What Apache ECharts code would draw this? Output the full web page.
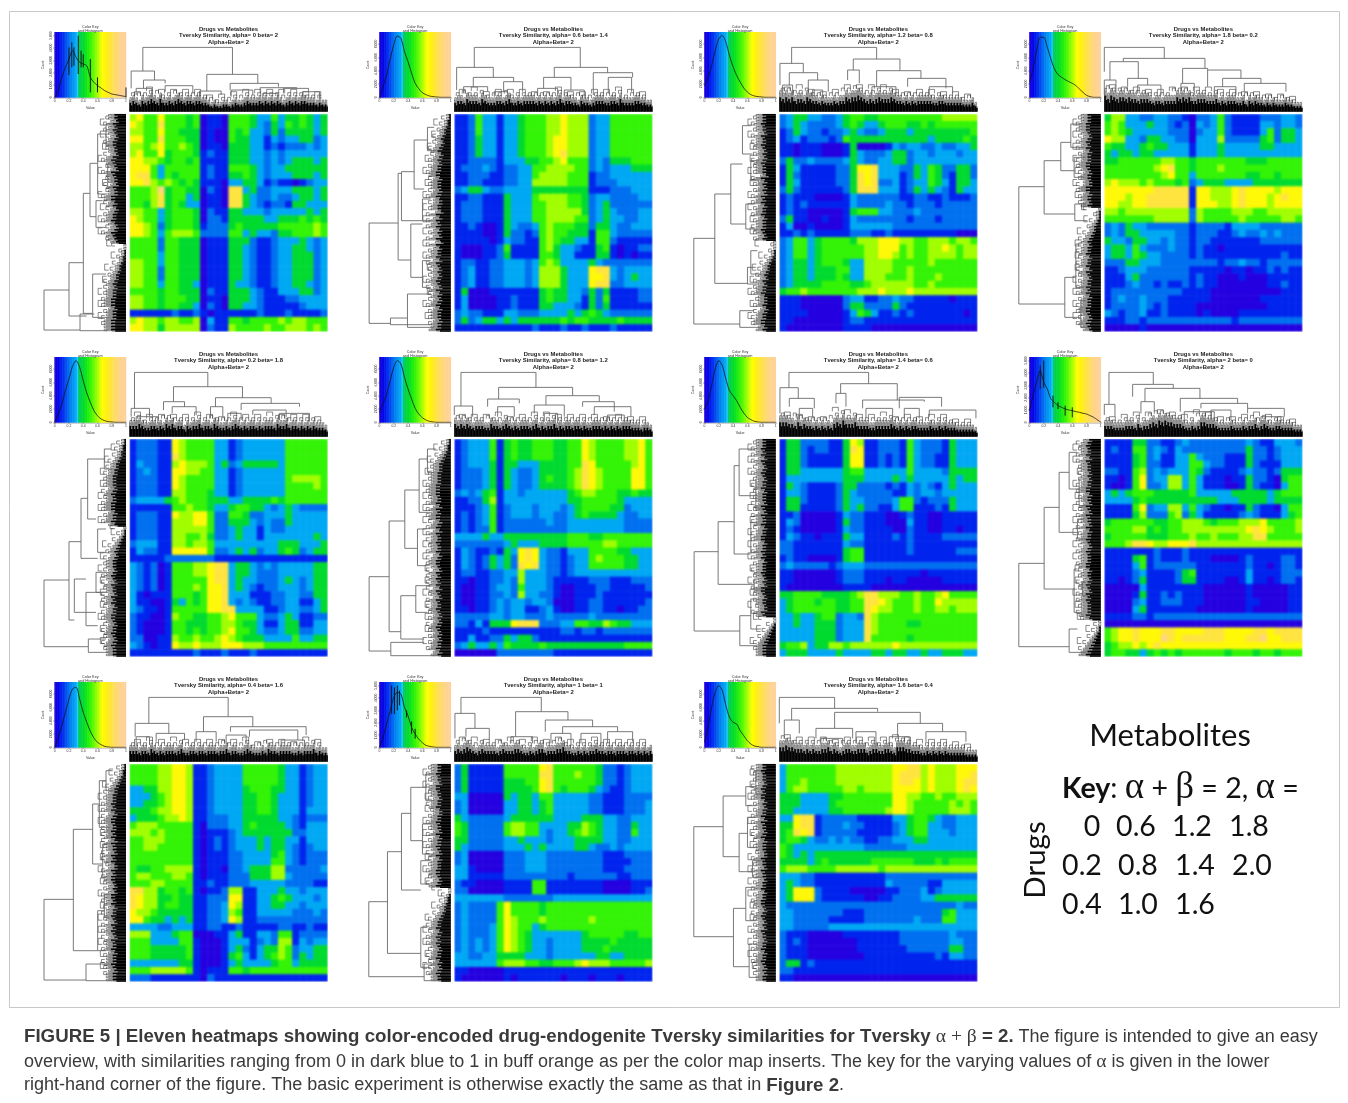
<!DOCTYPE html>
<html><head><meta charset="utf-8">
<script src="https://cdn.jsdelivr.net/npm/echarts@6/dist/echarts.min.js"></script>
<style>html,body{margin:0;padding:0;background:#fff}
#h,#a,#b{position:absolute;left:0;top:0;width:1348px;height:1103px}
#a{filter:blur(0.5px)}</style></head><body><div id="h"></div><div id="a"></div><div id="b"></div>
<script>
// ---- values ----
const alphaBetaLabels=["alpha= 0 beta= 2","alpha= 0.6 beta= 1.4","alpha= 1.2 beta= 0.8","alpha= 1.8 beta= 0.2","alpha= 0.2 beta= 1.8","alpha= 0.8 beta= 1.2","alpha= 1.4 beta= 0.6","alpha= 2 beta= 0","alpha= 0.4 beta= 1.6","alpha= 1 beta= 1","alpha= 1.6 beta= 0.4"];
const keyRows=[["0","0.6","1.2","1.8"],["0.2","0.8","1.4","2.0"],["0.4","1.0","1.6"]];
const histX=[0,.05,.1,.15,.2,.25,.3,.35,.4,.45,.5,.55,.6,.65,.7,.75,.8,.85,.9,1];
const countMax=[5270,9750,9750,9750,9750,9750,9750,5270,9750,5270,9750];
const countStep=[1000,2000,2000,2000,2000,2000,2000,1000,2000,1000,2000];
const hist1=[0,540,1620,2430,3100,3780,3240,2835,2700,2565,1620,1215,945,756,540,405,270,216,162,54];
const hist2=[0,1600,3350,5750,7850,9200,8850,6850,5350,3600,2100,1300,700,400,200,100,50,0,0,0];
const hist3=[1750,3000,4750,7000,8750,9250,8250,6250,4600,3300,2300,1400,800,400,200,100,50,0,0,0];
const hist4=[2250,4250,7000,9000,9000,7500,5750,4250,3400,3000,2650,2350,2100,1750,1250,750,300,100,0,0];
const hist5=[0,1250,2750,4750,6500,8400,9250,8250,6250,4400,3000,1750,1000,500,250,100,50,0,0,0];
const hist6=[1500,2750,4250,6250,8250,9250,8750,6750,5000,3500,2100,1250,700,350,150,50,0,0,0,0];
const hist7=[2000,3250,5500,8000,9250,8500,6500,4750,4000,3250,2250,1400,750,400,150,50,0,0,0,0];
const hist8=[945,2160,3240,4185,3240,2700,1890,1620,1350,1215,1080,1000,945,864,810,730,675,540,405,0];
const hist9=[0,1500,3250,5250,7250,8750,9000,7250,5250,3750,2400,1400,750,400,150,50,0,0,0,0];
const hist10=[0,810,1890,2970,4050,4455,4320,3240,2565,1620,1080,675,378,162,81,27,0,0,0,0];
const hist11=[750,3000,6000,8250,9250,8500,6250,4500,3750,3500,2500,1750,1000,500,200,100,0,0,0,0];
const spikes1=[[.2,1800,4050],[.24,2430,4450],[.27,2560,4050],[.33,1890,5000],[.37,2430,3780],[.4,2430,3500],[.5,400,3100],[.6,400,1620],[1,0,800]];
const spikes8=[[.15,2700,4600],[.2,2800,5000],[.33,1215,2160],[.4,1080,1620],[.5,540,1350],[.6,400,1215]];
const spikes10=[[.17,2700,5000],[.21,2700,4860],[.25,3000,5000],[.28,3400,4600],[.38,2430,3000],[.45,1100,2100],[.5,700,1500]];

// heat cells: one digit per cell, digit/10 is the similarity
const heat1=["6755755 5450110 5554335 3445434","7655855 5450110 5554324 3545434","6655755 4440100 5453324 2444434","7755855 5440100 5443313 2334423","6656755 6540110 4443312 1222323","6755745 5541211 4443323 2333333","7766545 5451111 4443323 2344434","7775355 5551211 5554323 3444444","7885354 5551211 4454323 3344434","7786565 4541110 3344312 1101233","5556945 5440210 8834223 3344434","5556845 5340110 8843223 2234434","5546845 4330110 8843212 2144333","6655345 5540211 4433323 3333434","7655345 5540221 4444433 4445454","7765245 5541222 4544444 5555565","7765356 6652222 5534332 4455565","5555255 4440111 4442112 3334323","5555255 4440111 4432112 3344323","5555355 4440111 4432112 3344423","6655355 4440111 4432112 3344423","6655255 4440111 4432112 3344423","6655255 4440111 4432112 3344423","6655355 4430111 4332112 3344323","5555455 4440211 4443211 3334423","6655455 5440110 4443211 1223333","6655455 4430210 4433211 1112333","1111112 1121011 1111211 1211112","6766566 5560311 5545555 6566555","7766466 6660211 6555565 5666565"];
const heat2=["1125331 3345556 6766623 3555555","1125331 3345556 6766623 3555555","1125331 3345556 6766623 3555555","1124331 3345556 7766623 3555555","1124331 3345556 7766623 3555555","1124331 3345556 7866623 3555555","1122221 3334455 6755523 2444555","1222321 2233556 6665523 2333444","1122211 2233566 6655512 2333333","1122111 2233666 6655512 2233333","2344322 3333444 4444411 1222333","1122111 4333566 6655423 3222233","1222111 4333556 6655423 4222222","1222111 4333556 6666423 4322233","1222111 4333556 6665523 4332233","1121001 4322356 5554424 4322333","1111001 4221256 5544415 5322222","1111101 3221156 5443315 5211111","1000112 5111156 4332114 5101122","1000112 4111155 4331114 4101011","1221122 3332356 5333343 2222222","1231122 3332366 6433378 8323333","1231122 3332366 6433377 8323433","1231122 3332366 6433378 8223333","1400011 1111145 4433242 4111122","1300001 1211145 4433142 5111122","1300001 1211144 3332142 4111111","2322111 3322233 3343454 3222222","2423443 4344444 4545544 4454444","1111111 1111211 1211211 1211111"];
const heat3=["2344332 2345544 5555555 5566666","2343222 2345433 4555445 4555555","1243221 2234322 3444344 4444445","1231222 1254444 4444444 3444454","1101110 0014000 0132332 2322334","1101110 0014322 2344233 2333233","2422322 2234322 3344233 3333333","1431111 1224778 3332243 5422442","1421111 1224878 3331243 5421442","1431111 1224878 2231233 5431443","2421111 1124888 3331243 4321433","1211100 0013222 2221122 1121112","1212111 1113222 2322122 2122222","1211000 0014555 3322232 2222222","2411001 0013222 2222122 2122222","1300100 0013333 3322222 2222222","1121211 1112221 1211111 1111000","2355345 5554666 7776655 6665665","2355345 5555566 7775655 6676566","2355345 5555566 7765655 6666566","2344345 5543366 6655555 6555555","2344344 4553366 6655655 5555555","2344344 4543366 6555655 5655555","2344445 5554456 6666655 6555555","4556555 5555666 7666766 6666666","1110000 0023311 2232211 1110111","1110000 0024422 2242111 1111111","1111000 0013543 1121211 1111101","1100000 0012211 1111111 1111111","1000000 0011110 0000000 0000000"];
const heat4=["4663322 3322102 2352111 1222332","5653334 3321203 2352111 1332332","5654333 3322202 3352111 1352443","7663324 4332203 3362222 2452443","5443345 4433313 3343333 3443333","4344344 3333313 3343333 3333333","4455555 5665545 5555554 4455555","5555555 6785545 5565555 5555555","5555555 5675535 5555554 4554555","6766656 5554523 4443333 4444444","7777777 8888817 7666787 7776777","7776778 8888817 7666787 7767877","7766778 8888817 7766787 7767777","6656666 6666626 5555666 5566666","5555555 6666626 5555565 5555665","2324332 2222212 2221333 3222222","2324433 3332212 2211232 2323222","4332443 3232212 2111111 1222222","3443532 2232212 1101111 1111111","3443543 3222212 1111111 1111211","2224433 3222222 2212232 2122222","1123332 2222211 1110110 1121211","1113422 2222212 1100010 0011111","1112322 1211212 1100000 0011211","1222222 2222111 1000000 0000111","1232232 2211111 1000000 0111111","1222232 1211110 0000000 0011111","3212231 1211110 1000011 1111111","1112212 2222222 2222122 2222222","0000010 0000000 0000000 0000000"];
const heat5=["1222117 6555533 1233333 3555555","1222117 6555533 1233333 3555555","1222118 6555533 1233333 3555555","1322116 7666534 2344444 3555555","1232117 7665533 1233333 3555555","1222117 6555533 1233333 3566665","1222117 6555533 1233333 3555565","1222116 6555433 1233333 3555555","2333345 6555444 3344445 4555555","1111115 5655433 4554432 3432222","1222117 6677522 5542233 3433333","1222116 6677522 4443232 2433333","1222116 6666522 3433132 2333333","1222116 6556422 3433133 3333343","2333116 6566533 3333333 4443334","1322117 7777522 3434233 4542344","1111122 2222211 1111111 1111111","3212015 5566788 3443232 3333344","3212015 5566788 3443222 3333344","3212015 5555788 3433222 3432344","3212015 5565778 3432122 3332344","3101115 5545778 3331112 2332244","3110014 3545778 3232112 2331134","3211015 5555778 8333311 2332234","2110016 5544556 7555322 3431122","2100015 5444556 6544311 3441133","2100015 5454556 7554322 3442233","2200116 5565567 6544433 3353344","3210117 6676667 7766655 5555555","1111111 1121112 1112111 1111111"];
const heat6=["1233351 4544555 4455765 5556675","1233351 4544555 4455765 5556675","1233351 4544555 4455765 5556675","1233341 4433344 4455875 5555675","1222341 4322344 4456876 5555775","1222341 4322345 4456876 5555775","1222341 4322344 4456876 5555775","2323451 3323333 3345665 5544544","1122461 3333333 3344555 5543333","1112351 2333233 3234555 5442333","1212351 2333233 2234544 4432233","1212351 2222223 2233333 3332222","1212251 2222222 2233333 3332222","3333433 4444444 4455544 5555555","2222222 3433344 4455555 6655555","1321121 4378732 2133355 5544333","1321243 4278732 2123356 5554433","1321243 4287832 2123355 5554433","1221122 3363332 2123333 3333333","1101122 3263332 1111122 2111222","1001123 3253332 1001112 2111112","1001122 3263322 1001112 1111111","1001123 2332332 0001122 1111112","1101123 2331123 1001122 1101122","2222233 2332223 2222232 2222222","2213144 4788822 2335544 6544333","1111211 1111111 1221221 2222222","1131122 4344211 1111111 1111111","2343343 5444454 4444444 4445555","0000002 2222222 1111111 1111111"];
const heat7=["1442222 1147611 2221532 2214333","1442122 1148711 2221532 2214333","1442111 1147711 2121532 2114333","1442111 1147711 2121532 2114333","1443333 3345533 3333533 3324444","1333333 3344433 3343433 3334344","1432111 1244222 2121323 2134333","1332111 1243222 2211323 3233333","1442111 1243322 2235521 2224333","1441111 1243422 1135511 1214333","1120000 0132211 1001211 0011111","1320000 0142211 1000311 0011111","1210000 0132211 1100211 0011011","1321101 1143311 1121211 1122222","2211111 1132211 1111211 1111111","2211111 1145511 1111211 1111222","1211000 0145511 1111111 1111111","2322222 1233322 2222222 2222222","1100000 0122211 1111110 1111111","1100000 0122211 1011000 0011111","1000000 0011110 0000000 0000000","4455554 4445688 6665565 5675555","3455545 5445588 7655565 5766666","3455555 5445587 6655565 5665666","3343345 5233286 5555555 5555555","3343344 4233386 5555445 5555555","3333344 4233386 5555555 5555555","3333344 4233385 5555455 5555555","4556344 6656666 6676666 6666666","3444333 3433334 4344334 3344433"];
const heat8=["1111442 2112322 2222223 2113332","1211552 3213222 2222224 2212333","1111452 3113353 2221114 2212333","1111452 2113355 3221114 2111333","2211562 3233354 2111123 2212444","1101572 3366353 1110114 2210455","1001572 2366353 1110014 2110355","3434555 4444453 3333444 4434555","3333454 4444444 4433344 4434444","1111572 3366353 2110114 2110355","1111462 2256243 1111123 2111345","4555555 4455666 5455566 6755556","5555664 5455666 6666667 8765556","4555554 4455565 5655566 8855555","5556887 6677786 6666666 6666666","1111111 2111211 1111111 1111111","1111451 2111211 1000012 1111221","1111351 2222221 1111112 1101221","1111231 1112451 1111113 1111222","1101241 1112441 1110013 1101221","0000031 1111111 0000001 0000011","0000141 1212111 0000001 0000011","0000231 1222111 0000001 1000011","0000341 1111110 0000001 0000011","1111221 2222222 2222222 2222222","0000000 0000000 0000000 0000000","5677877 7887777 8887777 8878888","5677877 7987888 8887778 8977888","4566767 8777777 7777777 7777777","4554434 5454555 5554555 4554555"];
const heat9=["5555667 7611233 3355555 4331233","5555667 7611233 3355555 4331233","5555667 7611233 3355555 4331233","3344667 7611233 3345554 4331233","3334567 7611233 3344554 3331233","3344567 7611233 3344554 3331233","4445667 7611233 3344554 3331333","3444566 7611222 3344444 3321222","5666555 5510222 3345444 4321333","6665655 5510111 2344444 4422333","5566655 5510121 2333434 4331333","5566555 5510121 2333434 4321233","5555555 5510111 2233334 5321222","5555555 5510111 2233335 5321222","5445566 6610110 2234446 6222223","5665556 6510111 2224446 6322222","5556655 5511211 2223333 3222211","8866455 4510112 6611333 4332333","8766445 4411222 7711334 5433323","8766455 4411223 7611334 4332333","7665444 4411223 6511333 3322232","7754434 3411223 7611222 2222222","3333223 3311221 1211111 2211211","6663334 5500011 3411332 5512222","5553333 5510001 3331232 6613233","5554444 4510001 3421344 6523344","5554444 4510001 4531345 6524344","3333333 4410001 3433334 5534444","5556666 6510111 5545555 5555555","2221111 1110211 1111111 1111111"];
const heat10=["2411111 5555578 5555554 2212333","2411111 5555588 5556554 2212333","2411111 4445578 5555554 2212333","2411111 4444578 5455543 2112333","3300000 4344355 3333322 1112222","2300000 3344345 3333322 1112223","2300000 3344345 3333322 1112223","4322222 3444444 3333444 3322333","5422222 5665533 3344654 3322433","5422222 5665532 3345654 3322533","4422222 3343332 3334444 3322333","4322222 3334343 3334432 2323333","2300000 2223332 2222222 1112222","2300000 2223332 2222222 1111222","3310000 2223332 2222222 1112222","3311111 2222222 2212222 2211222","2110000 1111551 1111111 0000111","2200000 1111551 1111111 0000112","3333333 2222222 3333333 3333333","2322225 7555545 5555555 5555555","2322225 7555545 5555555 5555555","2322225 7655565 5555565 5555555","2322235 7655345 5555555 5555555","2322235 7654333 3333455 5554455","2323235 7654332 3333444 4544444","2323235 7654332 3333444 5444444","3322334 4443332 3333334 4334444","3333335 6665544 5556766 6555556","1100000 1111111 1111111 1111111","1000000 1011111 1011101 1101111"];
const heat11=["3555555 5666666 6677886 7666777","3555555 5666666 6678886 7666778","3556555 5666666 6678876 7666788","3566555 5566566 6677776 7666787","4443333 4455555 5577665 5655666","4443333 4555555 5577655 5556565","4433333 4455555 5677655 5556665","3378812 2222111 1133455 4322333","4478812 2232211 1123455 3322333","4587812 2222111 1123455 3332333","4554322 3232211 2233344 3333333","5433333 3333322 2222333 3333333","5434344 4444444 4444444 4444444","4444345 4444445 5555544 4545555","5666555 5666666 5666666 6666666","3332211 1111111 1222222 2222222","3432211 1111111 1322222 1133333","3477721 1110000 0112223 1233333","3477721 1111100 1122223 3444444","3222222 2222222 2222222 2222322","3322222 2211122 2222222 2245333","3322222 1111122 2222232 2255333","3322222 3333333 3333333 3333333","2111000 0011111 1112222 2223222","2121000 0000111 1112222 2223322","2111000 0000111 1111222 2224422","2111000 0000011 1111111 1213322","2441211 1111111 1111111 1111111","2211111 1111111 1111111 1111111","1100000 0000000 0000000 0000000"];

// dendrogram joins: [from, to, level, level of first child, level of second child]
const topTree1=[[40,309,193,122,113],[5,75,122,70,95],[42,107,95,70,85],[107,190,78,60,55],[20,67,70,50,45],[232,385,112,62,85],[210,275,62,45,50],[302,447,85,65,75],[305,370,65,45,50],[392,502,72,55,70],[462,537,70,55,60],[400,445,55,40,40],[520,570,60,42,40]];
const topTree2=[[60,378,193,133,133],[7,117,133,65,103],[57,178,103,75,90],[148,205,90,60,60],[28,100,75,55,60],[300,460,133,103,117],[268,350,103,70,65],[417,535,117,50,103],[462,532,103,55,60],[250,310,70,50,50],[120,160,60,45,40],[330,390,65,45,45]];
const topTree3=[[37,292,193,145,158],[2,72,145,80,117],[30,115,117,80,95],[87,147,95,65,60],[10,40,80,50,50],[222,362,158,125,123],[205,240,125,95,85],[292,425,123,75,100],[385,500,100,75,70],[278,350,75,45,50],[450,520,75,50,55],[100,130,65,45,40]];
const topTree4=[[0,180,193,120,160],[57,302,160,150,130],[17,102,150,95,100],[70,130,100,75,80],[235,310,130,85,125],[310,410,125,75,100],[355,470,100,75,85],[420,545,85,60,60],[100,170,80,55,50],[230,270,85,55,50],[330,395,75,45,50],[0,35,95,50,55]];
const topTree5=[[15,235,193,85,150],[5,60,85,60,60],[132,339,150,105,117],[102,165,105,80,90],[128,200,90,70,65],[258,425,117,90,100],[243,280,90,55,60],[335,510,100,80,90],[370,470,80,65,60],[450,540,70,50,45],[295,335,70,50,50],[20,85,60,40,40]];
const topTree6=[[20,245,193,92,148],[0,55,92,65,60],[133,355,148,113,123],[100,195,113,90,100],[275,435,123,95,105],[240,330,95,70,60],[385,480,105,90,75],[130,180,90,60,60],[420,530,90,65,60],[460,510,65,45,45],[270,310,70,45,40]];
const topTree7=[[29,268,193,147,159],[2,57,147,70,115],[30,105,115,90,85],[184,354,159,130,110],[170,200,130,100,90],[250,435,110,85,105],[360,487,118,85,90],[450,590,80,60,55],[260,340,85,55,50],[375,420,85,55,55],[60,100,85,55,60]];
const topTree8=[[14,147,193,97,157],[0,32,97,65,60],[85,207,157,120,145],[110,150,105,70,75],[122,287,145,105,115],[228,400,115,75,100],[290,430,100,85,85],[430,540,85,70,60],[240,330,75,50,50],[470,530,60,40,40],[320,380,80,50,50]];
const topTree9=[[58,296,193,115,135],[17,118,115,75,85],[80,165,85,60,65],[222,370,135,90,105],[200,260,90,60,60],[303,530,105,90,80],[360,505,95,75,65],[455,525,65,45,40],[290,350,80,55,55],[20,60,75,50,50]];
const topTree10=[[20,261,193,145,150],[2,62,145,70,100],[35,105,100,75,65],[184,341,150,75,125],[170,235,75,55,55],[273,415,125,90,105],[325,490,105,85,90],[460,535,90,55,60],[290,350,85,55,50],[380,440,85,55,50]];
const topTree11=[[0,166,193,115,160],[37,295,160,125,150],[15,60,125,80,85],[166,423,148,100,115],[110,220,100,70,70],[355,490,115,75,90],[440,560,90,60,60],[330,390,75,55,50],[125,190,70,50,50],[230,290,90,55,50]];
const leftTree1=[[528,648,246,171,138],[446,606,171,128,118],[238,598,128,108,100],[148,308,108,85,90],[60,240,85,60,55],[260,340,90,70,60],[480,610,100,60,50],[600,650,138,95,55],[30,95,60,40,40],[150,220,55,35,40]];
const leftTree2=[[327,628,245,158,181],[178,438,158,148,120],[173,320,148,110,85],[78,225,110,70,80],[330,490,120,85,85],[255,320,85,60,60],[440,520,85,60,60],[612,632,181,130,60],[540,640,130,60,50],[40,110,70,50,45]];
const leftTree3=[[373,630,246,183,108],[240,508,183,135,85],[150,330,135,100,90],[35,120,100,75,70],[270,345,90,65,60],[460,510,85,60,50],[590,640,108,65,45],[410,480,75,55,45],[140,200,75,50,50]];
const leftTree4=[[218,570,246,170,108],[140,300,170,120,78],[85,170,120,90,80],[270,320,78,45,40],[490,610,108,75,60],[390,520,75,60,50],[30,100,90,55,50],[130,190,80,45,50],[560,640,60,45,40]];
const leftTree5=[[423,623,246,171,113],[308,543,171,135,155],[178,358,135,115,85],[60,240,115,65,90],[420,520,155,120,90],[460,560,120,75,85],[600,640,113,60,50],[270,340,85,60,60],[400,460,90,60,55],[30,90,65,45,40]];
const leftTree6=[[413,636,245,185,180],[246,578,185,138,150],[153,328,138,95,100],[60,220,95,70,60],[270,380,100,75,70],[470,600,150,105,80],[440,520,105,60,70],[610,650,180,80,40],[30,100,70,45,50]];
const leftTree7=[[338,576,245,173,108],[248,436,173,125,65],[80,345,125,110,75],[30,170,110,65,60],[250,340,75,55,50],[420,450,65,50,40],[530,620,108,75,60],[480,570,75,50,45],[120,210,60,45,40]];
const leftTree8=[[373,623,246,170,95],[205,450,170,125,80],[100,280,125,95,70],[40,150,95,70,65],[240,300,70,50,45],[390,520,80,70,55],[570,640,95,70,45],[430,470,55,45,40],[120,200,65,45,45]];
const leftTree9=[[406,648,246,158,120],[196,560,158,100,85],[120,300,100,80,70],[50,190,80,60,50],[440,560,85,65,60],[240,340,70,55,60],[600,650,120,60,40],[390,460,65,50,50],[20,80,60,40,35]];
const leftTree10=[[413,638,246,190,80],[263,568,190,148,90],[148,378,148,120,90],[70,230,120,75,85],[290,360,90,60,60],[490,610,90,70,60],[600,650,80,50,40],[30,110,75,50,50],[180,270,85,55,50]];
const leftTree11=[[188,518,246,158,127],[96,278,158,90,110],[68,125,90,60,60],[208,323,110,85,70],[160,250,85,60,55],[433,608,127,90,80],[370,470,90,60,60],[540,640,80,60,50],[290,340,70,45,40],[20,90,60,45,40]];
// outer dendrogram fringe: one digit per small slice
const fringeTop=["565465676575565676566566554343344345445655565656565456565665554544","566576665765556656755656666565656567566554655456665566575555665544","878786776876656555656687889876767877787665656566666556655555544453","979878878776777656656666878786677766675656665564656554545444544333","666765566565767566465667566576556567656566565666576675665656565554","767676566655766567656566656756566756566566565566656565656665554554","888776867665656565787977786666556666676565656655556556565554444443","666555566657566787989887776556568877765555655565667567655665555444","666566576565666567556656656665667566556765556576656666556566675655","676787656766665676667765565677566677866556565667665665666566565656","889887776767667786765677667775677667765888776665565656565555554444"];
const fringeLeft=["776878767887768987698776877997867889767987600112234456678788899978889999","112234456567867878899788878977886979897879697889798787898797878978887889","888988798898787898886978787989788978889878000112345567687889777867889978","888999878989788899878877997887801112344567878897889798788989788899878987","112233456677888878988999788970112345676788878987988798978899878898789888","112234567778888999988979899789798898897899879898979879889878789878788978","888989798789878897888798798897889978898978889878799878877980012345678888","789889798887878899788798798879788987898889978878987989888897001123456789","112234567788898978998898979887989779899878799897889879898798897888987888","888988799887889778898879788987978889987890012234456788978989878897878988","889888789899787889798878978887798879887889788998789878798878897889878788"];

// ---- layout & styling ----
const xs=[129.5,454.3,779.3,1104.3],ys=[114,439,764];
const heatmaps=[heat1,heat2,heat3,heat4,heat5,heat6,heat7,heat8,heat9,heat10,heat11];
const hists=[hist1,hist2,hist3,hist4,hist5,hist6,hist7,hist8,hist9,hist10,hist11];
const spikes={0:spikes1,7:spikes8,9:spikes10};
const topTrees=[topTree1,topTree2,topTree3,topTree4,topTree5,topTree6,topTree7,topTree8,topTree9,topTree10,topTree11];
const leftTrees=[leftTree1,leftTree2,leftTree3,leftTree4,leftTree5,leftTree6,leftTree7,leftTree8,leftTree9,leftTree10,leftTree11];
const rampStops=[[0,'#2400e0'],[.04,'#0000e6'],[.12,'#0030f0'],[.22,'#0080f0'],[.3,'#00a8f4'],[.325,'#20d0ff'],[.335,'#00c860'],[.42,'#00e020'],[.52,'#40f800'],[.62,'#b8ff00'],[.67,'#ffff00'],[.74,'#ffee10'],[.82,'#ffe050'],[.92,'#ffd488'],[1,'#ffd09c']];
const ramp=[];
for(let i=0;i<=200;i++){const t=i/200;let k=0;while(k<rampStops.length-2&&t>rampStops[k+1][0])k++;
  const a=rampStops[k],b=rampStops[k+1];ramp.push(echarts.color.lerp((t-a[0])/(b[0]-a[0]),[a[1],b[1]]));}
const keySteps=[];for(let i=0;i<100;i++)keySteps.push(i);

const grid=[],xAxis=[],yAxis=[],series=[],title=[],heatIdx=[];
const gridH=[],xAxisH=[],yAxisH=[],seriesH=[];
function hidden(o){return Object.assign({show:false},o);}
function addGrid(l,t,w,h,xa,ya){grid.push({left:l,top:t,width:w,height:h,containLabel:false});const g=grid.length-1;
  xAxis.push(Object.assign({gridIndex:g},xa));yAxis.push(Object.assign({gridIndex:g},ya));return g;}
function linesSeries(g,polys,color,width){series.push({type:'lines',coordinateSystem:'cartesian2d',xAxisIndex:g,yAxisIndex:g,polyline:true,silent:true,progressive:0,
  lineStyle:{color,width,opacity:1,curveness:0,cap:'butt'},data:polys.map(c=>({coords:c}))});}
function heat(g,data){series.push({type:'heatmap',xAxisIndex:g,yAxisIndex:g,data,silent:true,progressive:0,itemStyle:{borderWidth:0},emphasis:{disabled:true}});heatIdx.push(series.length-1);}
// each fringe digit gives a tall and a short tooth
function teeth(f){const o=[];f.forEach(d=>{o.push(d);o.push(d*.72);});return o;}
// small joins built from the fringe, first inside neighbours then across them
function fineJoins(f,step,lv,pt){const out=[];
  f.forEach((d,i)=>{const a=i*step,b=(i+.62)*step,h=d*lv;out.push([pt(a,0),pt(a,h),pt(b,h),pt(b,0)]);});
  for(let i=0;i+1<f.length;i+=2){const h=Math.max(f[i],f[i+1])*lv+7,a=(i+.31)*step,b=(i+1.31)*step;
    out.push([pt(a,f[i]*lv),pt(a,h),pt(b,h),pt(b,f[i+1]*lv)]);}
  for(let i=1;i+3<f.length;i+=4){const h=Math.max(f[i],f[i+1],f[i+2],f[i+3])*lv+15,a=(i+.31)*step,b=(i+2.31)*step;
    out.push([pt(a,h-10),pt(a,h),pt(b,h),pt(b,h-10)]);}
  for(let i=3;i+7<f.length;i+=8){const h=Math.max(f[i],f[i+3],f[i+4],f[i+7])*lv+25,a=(i+.31)*step,b=(i+4.31)*step;
    out.push([pt(a,h-12),pt(a,h),pt(b,h),pt(b,h-12)]);}
  return out;}

heatmaps.forEach((rows,p)=>{
  const x0=xs[p%4],y0=ys[Math.floor(p/4)];
  const cells=rows.map(r=>r.replace(/ /g,'').split('').map(Number));
  const data=[];cells.forEach((r,j)=>r.forEach((d,i)=>data.push([i,j,d/10])));
  // heatmap (own soft layer)
  gridH.push({left:x0,top:y0,width:198.3,height:217.7});
  xAxisH.push(hidden({gridIndex:p,type:'category',data:cells[0].map((_,i)=>i)}));
  yAxisH.push(hidden({gridIndex:p,type:'category',inverse:true,data:cells.map((_,i)=>i)}));
  seriesH.push({type:'heatmap',xAxisIndex:p,yAxisIndex:p,data,silent:true,progressive:0,itemStyle:{borderWidth:0},emphasis:{disabled:true}});
  // top dendrogram
  let g=addGrid(x0,y0-67.3,198.3,65,hidden({type:'value',min:0,max:595}),hidden({type:'value',min:0,max:195}));
  const ft=teeth(fringeTop[p].split('').map(Number)),stepT=595/ft.length;
  linesSeries(g,fineJoins(ft,stepT,7,(a,h)=>[a,h]),'#2a2a2a',.55);
  linesSeries(g,ft.map((d,i)=>[[(i+.5)*stepT,0],[(i+.5)*stepT,d*5.4]]),'#000',1.6);
  linesSeries(g,topTrees[p].map(n=>[[n[0],n[3]],[n[0],n[2]],[n[1],n[2]],[n[1],n[4]]]),'#6a6a6a',.9);
  // left dendrogram
  g=addGrid(x0-85.5,y0,82,217.7,hidden({type:'value',min:0,max:246,inverse:true}),hidden({type:'value',min:0,max:653,inverse:true}));
  const fl=teeth(fringeLeft[p].split('').map(Number)),stepL=653/fl.length;
  linesSeries(g,fineJoins(fl,stepL,6.5,(a,h)=>[h,a]),'#2a2a2a',.55);
  linesSeries(g,fl.map((d,i)=>[[0,(i+.5)*stepL],[d*5,(i+.5)*stepL]]),'#000',1.45);
  linesSeries(g,leftTrees[p].map(n=>[[n[3],n[0]],[n[2],n[0]],[n[2],n[1]],[n[4],n[1]]]),'#6a6a6a',.9);
  // colour key background
  const kx=x0-74.8,ky=y0-81.7;
  g=addGrid(kx,ky,71.3,65,hidden({type:'category',data:keySteps}),hidden({type:'category',data:[0]}));
  heat(g,keySteps.map(i=>[i,0,i/99]));
  // histogram on the key
  const tick={color:'#333',width:.45};
  g=addGrid(kx,ky,71.3,65,
    {type:'value',min:0,max:1,interval:.2,splitLine:{show:false},axisLine:{show:true,onZero:false,lineStyle:tick},axisTick:{length:1.6,lineStyle:tick},
     axisLabel:{fontSize:3.4,color:'#333',margin:2.6,formatter:v=>String(+v.toFixed(1))},name:'Value',nameLocation:'middle',nameGap:9,nameTextStyle:{fontSize:3.6,color:'#333'}},
    {type:'value',min:0,max:countMax[p],interval:countStep[p],splitLine:{show:false},axisLine:{show:true,onZero:false,lineStyle:tick},axisTick:{length:1.6,lineStyle:tick},
     axisLabel:{fontSize:3.4,color:'#333',margin:2.4,rotate:90,showMaxLabel:false},name:'Count',nameLocation:'middle',nameGap:10,nameTextStyle:{fontSize:3.2,color:'#333'}});
  series.push({type:'line',xAxisIndex:g,yAxisIndex:g,data:histX.map((x,i)=>[x,hists[p][i]]),symbol:'none',smooth:.3,silent:true,lineStyle:{color:'#111',width:.75}});
  if(spikes[p])linesSeries(g,spikes[p].map(s=>[[s[0],s[1]],[s[0],s[2]]]),'#111',.95);
  // titles
  title.push({text:'Drugs vs Metabolites\nTversky Similarity, '+alphaBetaLabels[p]+'\nAlpha+Beta= 2',left:x0+99,top:y0-88.4,padding:0,textAlign:'center',
    textStyle:{fontFamily:'Liberation Sans',fontWeight:'bold',fontSize:5.9,lineHeight:6.7,color:'#222'}});
  title.push({text:'Color Key\nand Histogram',left:kx+35.6,top:y0-88.6,padding:0,textAlign:'center',textStyle:{fontFamily:'Liberation Sans',fontWeight:'normal',fontSize:3.8,lineHeight:3.9,color:'#333'}});
});

const hEl=document.getElementById('h');
hEl.style.filter='blur(1px)';
const clip=[];ys.forEach((y,r)=>xs.forEach((x,c)=>{if(r*4+c<11)clip.push(`M${x} ${y}h198.3v217.7h-198.3Z`);}));
hEl.style.clipPath=`path('${clip.join(' ')}')`;
echarts.init(hEl).setOption({animation:false,grid:gridH,xAxis:xAxisH,yAxis:yAxisH,series:seriesH,
  visualMap:{show:false,type:'continuous',min:0,max:1,seriesIndex:seriesH.map((_,i)=>i),inRange:{color:ramp}}});
echarts.init(document.getElementById('a')).setOption({animation:false,grid,xAxis,yAxis,series,title,
  visualMap:{show:false,type:'continuous',min:0,max:1,seriesIndex:heatIdx,inRange:{color:ramp}}});

// ---- caption and key (crisp layer) ----
const cap={fontFamily:'Liberation Sans',fontSize:18,fontWeight:'normal',color:'#3a3a3a'};
const capRich={b:Object.assign({},cap,{fontWeight:'bold',fontSize:18.7}),n:cap,s:Object.assign({},cap,{fontFamily:'Liberation Serif',fontSize:19.5})};
const kf='Lato',ksz=28.5;
const keyRich={k:{fontFamily:kf,fontWeight:'bold',fontSize:ksz,color:'#111'},n:{fontFamily:kf,fontWeight:'normal',fontSize:ksz,color:'#111'},g:{fontFamily:'Liberation Serif',fontWeight:'normal',fontSize:37,color:'#111'}};
const t2=[
 {text:'{b|FIGURE 5 | Eleven heatmaps showing color-encoded drug-endogenite Tversky similarities for Tversky }{s|α + β}{b| = 2.}{n| The figure is intended to give an easy}',left:24,top:1027,padding:0,textStyle:{rich:capRich}},
 {text:'{n|overview, with similarities ranging from 0 in dark blue to 1 in buff orange as per the color map inserts. The key for the varying values of }{s|α}{n| is given in the lower}',left:24,top:1052,padding:0,textStyle:{rich:capRich}},
 {text:'{n|right-hand corner of the figure. The basic experiment is otherwise exactly the same as that in }{b|Figure 2}{n|.}',left:24,top:1076,padding:0,textStyle:{rich:capRich}},
 {text:'Metabolites',left:1170,top:720,padding:0,textAlign:'center',textStyle:{fontFamily:kf,fontSize:31,fontWeight:'normal',color:'#111'}},
 {text:'{k|Key}{n|: }{g|α}{n| + }{g|β}{n| = 2, }{g|α}{n| =}',left:1062,top:770,padding:0,textStyle:{rich:keyRich}}
];
const keyCols=[[1092,1136,1192,1249],[1082,1138,1195,1252],[1082,1138,1195]];
const keyTops=[812,851,890];
keyRows.forEach((r,j)=>r.forEach((v,i)=>{
  t2.push({text:v,left:keyCols[j][i],top:keyTops[j],padding:0,textAlign:'center',textStyle:{fontFamily:kf,fontSize:ksz,fontWeight:'normal',color:'#111'}});
}));
echarts.init(document.getElementById('b')).setOption({animation:false,title:t2,
 graphic:[
  {type:'text',x:1035,y:860,rotation:Math.PI/2,style:{text:'Drugs',font:'29.5px Lato',fill:'#111',textAlign:'center',textVerticalAlign:'middle'}},
  {type:'rect',shape:{x:9.5,y:11.5,width:1330,height:996},style:{fill:'none',stroke:'#c8c8c8',lineWidth:1}}
 ]});
</script></body></html>
